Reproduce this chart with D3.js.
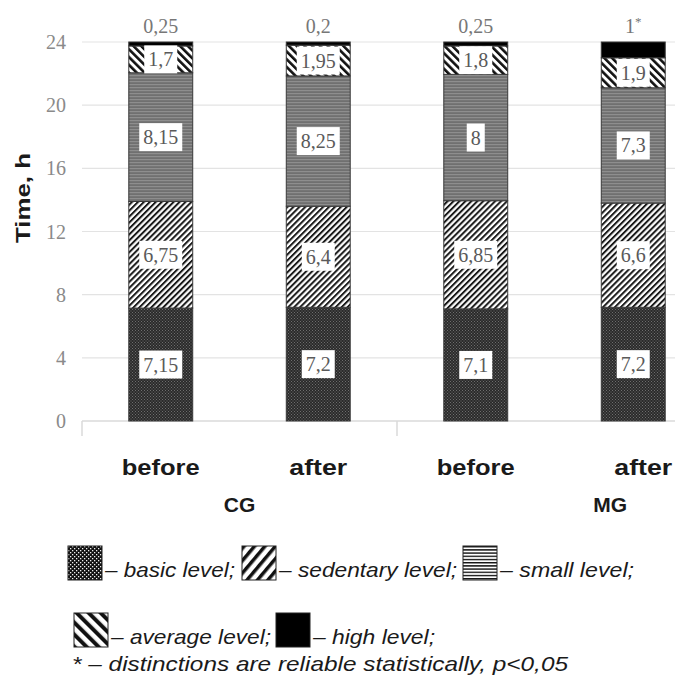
<!DOCTYPE html>
<html>
<head>
<meta charset="utf-8">
<script src="https://cdn.jsdelivr.net/npm/d3@7"></script>
<style>
  body { margin: 0; background: #fff; }
  svg { display: block; }
</style>
</head>
<body>
<svg id="chart" width="675" height="677"></svg>
<script>
// data
const bars = ["CG-before", "CG-after", "MG-before", "MG-after"];
const barLabels = ["before", "after", "before", "after"];
const levels = ["basic", "sedentary", "small", "average", "high"];
const basic = [7.15, 7.2, 7.1, 7.2];
const sedentary = [6.75, 6.4, 6.85, 6.6];
const small = [8.15, 8.25, 8, 7.3];
const average = [1.7, 1.95, 1.8, 1.9];
const high = [0.25, 0.2, 0.25, 1];
const highLabels = ["0,25", "0,2", "0,25", "1"];
const highStar = [false, false, false, true];
const yTicks = [0, 4, 8, 12, 16, 20, 24];
const groups = ["CG", "MG"];
const legendNames = ["basic level;", "sedentary level;", "small level;", "average level;", "high level;"];

const svg = d3.select("#chart");
const fmt = (v) => String(v).replace(".", ",");

// 比例尺
const x = d3.scaleBand().domain(bars).range([82, 712]).paddingInner(0.594).paddingOuter(0.297);
const y = d3.scaleLinear().domain([0, 24]).range([421, 42]);

// patterns
const defs = svg.append("defs");
function stripes(id, size, lineW, rot, bg, fg) {
    const p = defs.append("pattern").attr("id", id)
        .attr("patternUnits", "userSpaceOnUse")
        .attr("width", size).attr("height", size)
        .attr("patternTransform", "rotate(" + rot + ")");
    p.append("rect").attr("width", size).attr("height", size).attr("fill", bg);
    p.append("rect").attr("width", lineW).attr("height", size).attr("fill", fg);
}
function dots(id, size, bg, fg, d) {
    const p = defs.append("pattern").attr("id", id)
        .attr("patternUnits", "userSpaceOnUse")
        .attr("width", size).attr("height", size);
    p.append("rect").attr("width", size).attr("height", size).attr("fill", bg);
    p.append("rect").attr("width", d).attr("height", d).attr("fill", fg);
    p.append("rect").attr("x", size / 2).attr("y", size / 2).attr("width", d).attr("height", d).attr("fill", fg);
}
dots("p-basic", 3, "#2b2b2b", "#6e6e6e", 1);
stripes("p-sedentary", 4.2, 2, 45, "#fff", "#1a1a1a");
stripes("p-small", 3, 1.2, 90, "#707070", "#8e8e8e");
stripes("p-average", 5.5, 2.6, -45, "#fff", "#111");
// legend patterns
dots("l-basic", 4, "#111", "#eee", 1.3);
stripes("l-sedentary", 8, 3.5, 40, "#fff", "#111");
stripes("l-small", 3.2, 1.4, 90, "#fff", "#111");
stripes("l-average", 8.5, 4, -45, "#fff", "#111");

const fills = {
    basic: "url(#p-basic)", sedentary: "url(#p-sedentary)", small: "url(#p-small)",
    average: "url(#p-average)", high: "#000"
};
const legendFills = ["url(#l-basic)", "url(#l-sedentary)", "url(#l-small)", "url(#l-average)", "#000"];

// gridlines
svg.append("g").selectAll("line").data(yTicks.filter(d => d > 0)).enter().append("line")
    .attr("x1", x.range()[0]).attr("x2", x.range()[1])
    .attr("y1", d => y(d)).attr("y2", d => y(d))
    .attr("stroke", "#e3e3e3").attr("stroke-width", 1.2);

// y tick labels
svg.append("g").selectAll("text").data(yTicks).enter().append("text")
    .attr("x", 66).attr("y", d => y(d)).attr("dy", "0.35em")
    .attr("text-anchor", "end")
    .style("font-family", "Liberation Serif").style("font-size", "20px")
    .attr("fill", "#8a8a8a")
    .text(d => d);

// x axis line + separators
svg.append("line").attr("x1", x.range()[0]).attr("x2", x.range()[1])
    .attr("y1", y(0)).attr("y2", y(0)).attr("stroke", "#dadada").attr("stroke-width", 1.5);
svg.append("g").selectAll("line").data([0, 2, 4]).enter().append("line")
    .attr("x1", i => x.range()[0] + x.step() * i).attr("x2", i => x.range()[0] + x.step() * i)
    .attr("y1", y(0)).attr("y2", y(0) + 15)
    .attr("stroke", "#dadada").attr("stroke-width", 1.5);

// stacked bars
const table = bars.map((b, i) => ({
    key: b, basic: basic[i], sedentary: sedentary[i], small: small[i], average: average[i], high: high[i]
}));
const series = d3.stack().keys(levels)(table);

const layer = svg.append("g").selectAll("g").data(series).enter().append("g")
    .attr("fill", d => fills[d.key]);
layer.selectAll("rect").data(d => d).enter().append("rect")
    .attr("x", d => x(d.data.key))
    .attr("y", d => y(d[1]))
    .attr("width", x.bandwidth())
    .attr("height", d => y(d[0]) - y(d[1]))
    .attr("stroke", "#3a3a3a").attr("stroke-width", 1);

// segment labels (all but "high")
const labG = svg.append("g");
series.filter(s => s.key !== "high").forEach(s => {
    s.forEach(d => {
        const cx = x(d.data.key) + x.bandwidth() / 2;
        const cy = (y(d[0]) + y(d[1])) / 2;
        const g = labG.append("g").attr("transform", "translate(" + cx + "," + cy + ")");
        const t = g.append("text")
            .attr("text-anchor", "middle").attr("dy", "0.35em")
            .style("font-family", "Liberation Serif").style("font-size", "20px")
            .attr("fill", "#5a5a5a")
            .text(fmt(d.data[s.key]));
        const bb = t.node().getBBox();
        g.insert("rect", "text")
            .attr("x", bb.x - 4).attr("y", -14)
            .attr("width", bb.width + 8).attr("height", 28)
            .attr("fill", "#fff");
    });
});

// high level labels above bars
const topT = svg.append("g").selectAll("text").data(bars).enter().append("text")
    .attr("x", d => x(d) + x.bandwidth() / 2)
    .attr("y", 33)
    .attr("text-anchor", "middle")
    .style("font-family", "Liberation Serif").style("font-size", "20px")
    .attr("fill", "#777");
topT.append("tspan").text((d, i) => highLabels[i]);
topT.append("tspan").attr("dy", -7).style("font-size", "13px")
    .text((d, i) => highStar[i] ? "*" : "");

// category labels
svg.append("g").selectAll("text").data(bars).enter().append("text")
    .attr("x", (d, i) => x(d) + x.bandwidth() / 2 + (i === 3 ? 10 : 0))
    .attr("y", 475)
    .attr("text-anchor", "middle")
    .style("font-family", "Liberation Sans").style("font-weight", "bold").style("font-size", "22px")
    .attr("fill", "#1a1a1a")
    .attr("textLength", (d, i) => barLabels[i] === "before" ? 78 : 58)
    .attr("lengthAdjust", "spacingAndGlyphs")
    .text((d, i) => barLabels[i]);

// group labels
const gx = [
    (x(bars[0]) + x(bars[1]) + x.bandwidth()) / 2,
    x(bars[3]) + x.bandwidth() / 2 - 23
];
svg.append("g").selectAll("text").data(groups).enter().append("text")
    .attr("x", (d, i) => gx[i]).attr("y", 512)
    .attr("text-anchor", "middle")
    .style("font-family", "Liberation Sans").style("font-weight", "bold").style("font-size", "21px")
    .attr("fill", "#1a1a1a")
    .text(d => d);

// y axis title
svg.append("text")
    .attr("transform", "translate(30,198) rotate(-90)")
    .attr("text-anchor", "middle")
    .style("font-family", "Liberation Sans").style("font-weight", "bold").style("font-size", "21px")
    .attr("fill", "#1a1a1a")
    .attr("textLength", 90).attr("lengthAdjust", "spacingAndGlyphs")
    .text("Time, h");

// legend
const legendPos = [
    { x: 68, y: 546, w: 130 }, { x: 242, y: 546, w: 178 }, { x: 463, y: 546, w: 134 },
    { x: 74, y: 613, w: 160 }, { x: 276, y: 613, w: 122 }
];
const lg = svg.append("g").selectAll("g").data(legendNames).enter().append("g")
    .attr("transform", (d, i) => "translate(" + legendPos[i].x + "," + legendPos[i].y + ")");
lg.append("rect")
    .attr("width", 34).attr("height", 34)
    .attr("fill", (d, i) => legendFills[i])
    .attr("stroke", "#222").attr("stroke-width", 1);
lg.append("text")
    .attr("x", 37).attr("y", 31)
    .style("font-family", "Liberation Sans").style("font-style", "italic").style("font-size", "21px")
    .attr("fill", "#1a1a1a")
    .attr("textLength", (d, i) => legendPos[i].w).attr("lengthAdjust", "spacingAndGlyphs")
    .text(d => "– " + d);

svg.append("text")
    .attr("x", 72).attr("y", 671)
    .style("font-family", "Liberation Sans").style("font-style", "italic").style("font-size", "21px")
    .attr("fill", "#1a1a1a")
    .attr("textLength", 496).attr("lengthAdjust", "spacingAndGlyphs")
    .text("* – distinctions are reliable statistically, p<0,05");
</script>
</body>
</html>
